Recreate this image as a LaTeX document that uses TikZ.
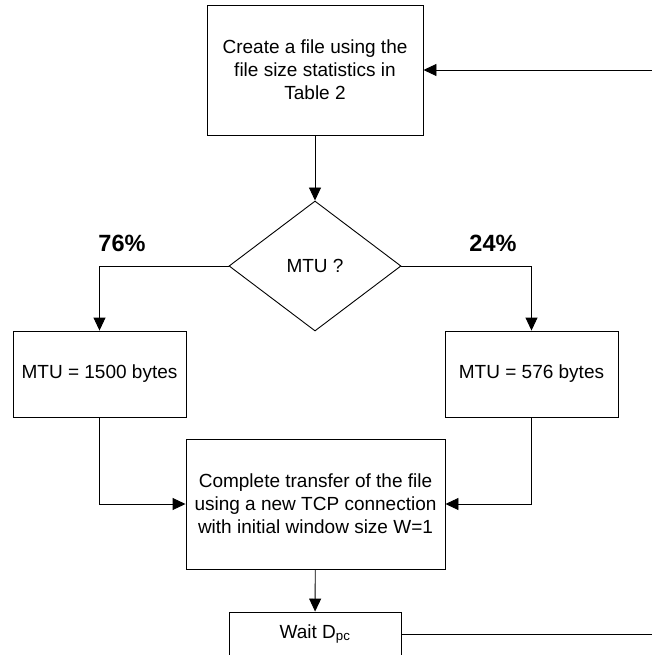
\documentclass[tikz,border=0pt]{standalone}
\usepackage{fontspec}
\setmainfont{Liberation Sans}
\usetikzlibrary{arrows.meta,shapes.geometric}
\begin{document}
\begin{tikzpicture}[x=1pt,y=-1pt,
  box/.style={draw,line width=0.9pt,inner sep=0pt,align=center,font=\fontsize{19}{23}\selectfont},
  arr/.style={-{Triangle[length=13pt,width=12pt]},line width=0.9pt},
  ln/.style={line width=0.9pt},
  pct/.style={inner sep=0pt,font=\fontsize{23.5}{28}\selectfont\bfseries}]
\useasboundingbox (0,0) rectangle (652,655);
\node[box,minimum width=216pt,minimum height=130pt] (create) at (315,70)
  {Create a file using the\\file size statistics in\\Table 2};
\node[box,shape=diamond,minimum width=172pt,minimum height=130pt] (mtu) at (315,266) {MTU ?};
\node[box,minimum width=173pt,minimum height=86pt] (m1500) at (99.5,374) {MTU = 1500 bytes};
\node[box,minimum width=173pt,minimum height=86pt] (m576) at (531.5,374) {MTU = 576 bytes};
\node[box,minimum width=259pt,minimum height=130pt] (xfer) at (315.5,504)
  {Complete transfer of the file\\using a new TCP connection\\with initial window size W=1};
\node[box,minimum width=172pt,minimum height=44pt] (wait) at (315,634) {Wait D\textsubscript{pc}};
\node[pct] (p76) at (122,243) {76\%};
\node[pct] (p24) at (493,243) {24\%};
\coordinate (loopin) at (653,70);
\coordinate (loopout) at (653,634);
\draw[arr] (create) -- (mtu);
\draw[arr] (mtu.west) -| (m1500.north);
\draw[arr] (mtu.east) -| (m576.north);
\draw[arr] (m1500.south) |- (xfer.west);
\draw[arr] (m576.south) |- (xfer.east);
\draw[arr] (xfer) -- (wait);
\draw[ln] (wait.east) -- (loopout);
\draw[arr] (loopin) -- (create.east);
\end{tikzpicture}
\end{document}
